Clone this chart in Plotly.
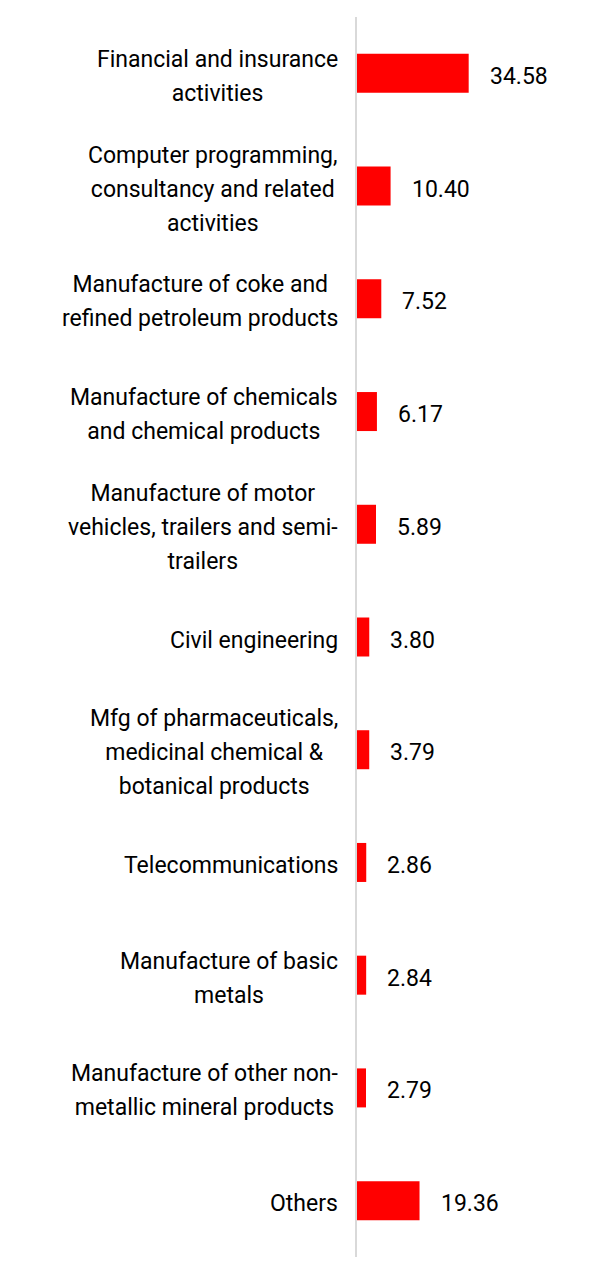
import plotly.graph_objects as go

categories = [
    "Financial and insurance<br>activities",
    "Computer programming,<br>consultancy and related<br>activities",
    "Manufacture of coke and<br>refined petroleum products",
    "Manufacture of chemicals<br>and chemical products",
    "Manufacture of motor<br>vehicles, trailers and semi-<br>trailers",
    "Civil engineering",
    "Mfg of pharmaceuticals,<br>medicinal chemical &<br>botanical products",
    "Telecommunications",
    "Manufacture of basic<br>metals",
    "Manufacture of other non-<br>metallic mineral products",
    "Others",
]
values = [34.58, 10.40, 7.52, 6.17, 5.89, 3.80, 3.79, 2.86, 2.84, 2.79, 19.36]

# page body has an 8px margin; compensate so the screenshot matches
W, H = 598, 1256
ML, MR, MT, MB = 349, 12, 9, 6.5
px_per_unit = 3.23
xmax = (W - ML - MR) / px_per_unit

fig = go.Figure(go.Bar(
    x=values, y=categories, orientation="h",
    marker=dict(color="#ff0000", line=dict(width=0)),
    width=0.346, hoverinfo="skip",
))

ann = []
for c, v in zip(categories, values):
    lines = c.split("<br>")
    txt = "<br>".join(f"<span style='font-size:23px'>{ln}</span>" for ln in lines)
    ann.append(dict(
        xref="paper", x=0, yref="y", y=c, text=txt, showarrow=False,
        xanchor="right", yanchor="middle", align="center", xshift=-17, yshift=-3,
        font=dict(family="Roboto", size=26, color="#000000"),
    ))
    ann.append(dict(
        xref="x", x=v, yref="y", y=c, text=f"{v:.2f}", showarrow=False,
        xanchor="left", yanchor="middle", xshift=19, yshift=-3,
        font=dict(family="Roboto", size=23, color="#000000"),
    ))

fig.update_layout(
    width=W, height=H,
    margin=dict(l=ML, r=MR, t=MT, b=MB),
    paper_bgcolor="white", plot_bgcolor="white",
    showlegend=False,
    annotations=ann,
    xaxis=dict(range=[0, xmax], visible=False, fixedrange=True),
    yaxis=dict(autorange="reversed", showticklabels=False, showgrid=False,
               zeroline=False, ticks="", showline=True, linecolor="#d9d9d9",
               linewidth=2, fixedrange=True),
    font=dict(family="Roboto"),
)

fig.write_html("out.html", config={"displayModeBar": False})
